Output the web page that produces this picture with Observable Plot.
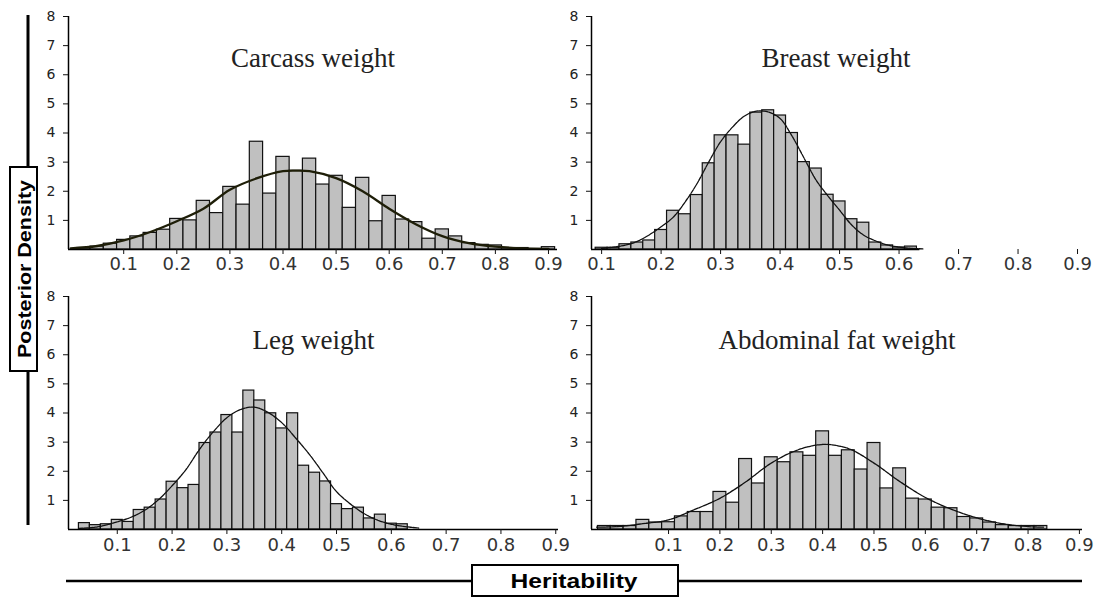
<!DOCTYPE html>
<html><head><meta charset="utf-8">
<script src="https://cdn.jsdelivr.net/npm/d3@7"></script>
<script src="https://cdn.jsdelivr.net/npm/@observablehq/plot@0.6"></script>
<style>
html,body{margin:0;padding:0;background:#fff;}
#wrap{position:relative;width:1099px;height:597px;overflow:hidden;background:#fff;}
#wrap > svg{position:absolute;}
</style></head><body><div id="wrap"></div>
<script>
// ---------- data ----------
const panelTitles = ["Carcass weight", "Breast weight", "Leg weight", "Abdominal fat weight"];
const xAxisTitle = "Heritability";
const yAxisTitle = "Posterior Density";
const xTickValues = [0.1, 0.2, 0.3, 0.4, 0.5, 0.6, 0.7, 0.8, 0.9];
const yTickValues = [1, 2, 3, 4, 5, 6, 7, 8];

// Carcass weight (bin width 0.025)
const carcassBinWidth = 0.025;
const carcassBins = [0.025,0.05,0.075,0.1,0.125,0.15,0.175,0.2,0.225,0.25,0.275,0.3,0.325,0.35,0.375,0.4,0.425,0.45,0.475,0.5,0.525,0.55,0.575,0.6,0.625,0.65,0.675,0.7,0.725,0.75,0.775,0.8,0.825,0.85,0.875,0.9];
const carcassDensity = [0.05,0.1,0.2,0.33,0.45,0.57,0.68,1.05,1.0,1.67,1.25,2.15,1.54,3.7,1.92,3.18,2.7,3.12,2.23,2.53,1.43,2.46,0.97,1.84,1.03,0.94,0.37,0.69,0.45,0.22,0.16,0.14,0.05,0.05,0.02,0.08];
const carcassCurveX = [0.0,0.05,0.1,0.15,0.2,0.25,0.3,0.35,0.4,0.425,0.45,0.5,0.55,0.6,0.65,0.7,0.75,0.8,0.85,0.9];
const carcassCurveY = [0.04,0.12,0.31,0.6,0.97,1.4,2.05,2.44,2.69,2.71,2.69,2.45,2.0,1.4,0.87,0.46,0.22,0.1,0.04,0.02];

// Breast weight (bin width 0.02)
const breastBinWidth = 0.02;
const breastBins = [0.1,0.12,0.14,0.16,0.18,0.2,0.22,0.24,0.26,0.28,0.3,0.32,0.34,0.36,0.38,0.4,0.42,0.44,0.46,0.48,0.5,0.52,0.54,0.56,0.58,0.6,0.62];
const breastDensity = [0.06,0.06,0.18,0.24,0.31,0.67,1.33,1.21,1.87,2.96,3.92,3.92,3.6,4.7,4.78,4.6,4.0,3.0,2.78,1.88,1.65,1.04,0.92,0.24,0.14,0.07,0.1];
const breastCurveX = [0.1,0.12,0.14,0.16,0.18,0.2,0.22,0.24,0.26,0.28,0.3,0.32,0.34,0.36,0.38,0.4,0.42,0.44,0.46,0.48,0.5,0.52,0.54,0.56,0.58,0.6,0.62,0.64];
const breastCurveY = [0.04,0.08,0.15,0.28,0.5,0.78,1.1,1.62,2.25,3.0,3.7,4.2,4.58,4.75,4.72,4.5,3.9,3.15,2.4,1.85,1.35,0.85,0.5,0.3,0.16,0.08,0.04,0.02];

// Leg weight (bin width 0.02)
const legBinWidth = 0.02;
const legBins = [0.04,0.06,0.08,0.1,0.12,0.14,0.16,0.18,0.2,0.22,0.24,0.26,0.28,0.3,0.32,0.34,0.36,0.38,0.4,0.42,0.44,0.46,0.48,0.5,0.52,0.54,0.56,0.58,0.6,0.62];
const legDensity = [0.22,0.15,0.18,0.33,0.26,0.67,0.75,1.03,1.64,1.42,1.53,2.97,3.33,3.93,3.33,4.77,4.43,3.99,3.47,3.99,2.19,1.95,1.65,0.87,0.7,0.75,0.38,0.51,0.2,0.18];
const legCurveX = [0.03,0.06,0.1,0.125,0.15,0.175,0.2,0.225,0.25,0.275,0.3,0.325,0.35,0.375,0.4,0.425,0.45,0.475,0.5,0.525,0.55,0.575,0.6,0.625,0.65];
const legCurveY = [0.04,0.08,0.26,0.42,0.66,1.02,1.5,2.05,2.75,3.35,3.84,4.12,4.2,4.02,3.67,3.15,2.59,1.95,1.3,0.88,0.55,0.32,0.18,0.1,0.05];

// Abdominal fat weight (bin width 0.025)
const abdominalBinWidth = 0.025;
const abdominalBins = [-0.025,0,0.025,0.05,0.075,0.1,0.125,0.15,0.175,0.2,0.225,0.25,0.275,0.3,0.325,0.35,0.375,0.4,0.425,0.45,0.475,0.5,0.525,0.55,0.575,0.6,0.625,0.65,0.675,0.7,0.725,0.75,0.775,0.8,0.825];
const abdominalDensity = [0.12,0.12,0.12,0.33,0.24,0.25,0.45,0.6,0.6,1.29,0.92,2.42,1.58,2.48,2.31,2.65,2.53,3.37,2.53,2.72,2.06,2.97,1.41,2.1,1.06,1.03,0.75,0.73,0.43,0.38,0.24,0.15,0.12,0.12,0.12];
const abdominalCurveX = [-0.04,0.0,0.05,0.1,0.15,0.2,0.25,0.3,0.35,0.4,0.45,0.5,0.55,0.6,0.65,0.7,0.75,0.8,0.83];
const abdominalCurveY = [0.08,0.1,0.2,0.33,0.68,1.07,1.63,2.28,2.72,2.92,2.78,2.28,1.65,1.1,0.7,0.4,0.2,0.1,0.08];

// ---------- layout ----------
const panels = [
  {title: panelTitles[0], bins: carcassBins, dens: carcassDensity, bw: carcassBinWidth, cx: carcassCurveX, cy: carcassCurveY,
   left: 0, top: 0, width: 560, mL: 68, mR: 3, xd: [-0.004, 0.917], axisEnd: 0.917, titleDy: 31.5, labelDy: 20, thick: true},
  {title: panelTitles[1], bins: breastBins, dens: breastDensity, bw: breastBinWidth, cx: breastCurveX, cy: breastCurveY,
   left: 560, top: 0, width: 539, mL: 31, mR: 19, xd: [0.083, 0.905], axisEnd: 0.635, titleDy: 31.5, labelDy: 20, thick: false},
  {title: panelTitles[2], bins: legBins, dens: legDensity, bw: legBinWidth, cx: legCurveX, cy: legCurveY,
   left: 0, top: 280, width: 560, mL: 68, mR: 2, xd: [0.011, 0.905], axisEnd: 0.905, titleDy: 33, labelDy: 21, thick: false},
  {title: panelTitles[3], bins: abdominalBins, dens: abdominalDensity, bw: abdominalBinWidth, cx: abdominalCurveX, cy: abdominalCurveY,
   left: 560, top: 280, width: 539, mL: 31, mR: 17, xd: [-0.05, 0.906], axisEnd: 0.906, titleDy: 33, labelDy: 21, thick: false}
];

const wrap = document.getElementById("wrap");
const tickFont = "DejaVu Sans, Verdana, sans-serif";

for (const p of panels) {
  const rects = p.bins.map((c, i) => ({x1: c - p.bw / 2, x2: c + p.bw / 2, v: p.dens[i]}));
  const curve = p.cx.map((x, i) => ({x, y: p.cy[i]}));
  const chart = Plot.plot({
    width: p.width, height: 290,
    marginLeft: p.mL, marginRight: p.mR, marginTop: 16, marginBottom: 41,
    x: {domain: p.xd, axis: null},
    y: {domain: [0, 8], axis: null},
    style: {fontFamily: tickFont, background: "transparent", color: "#111", overflow: "visible"},
    marks: [
      Plot.rect(rects, {x1: "x1", x2: "x2", y1: 0, y2: "v", fill: "#c0c0c0", stroke: "#111", strokeWidth: 1.2}),
      Plot.line(curve, {x: "x", y: "y", curve: "catmull-rom",
        stroke: p.thick ? "#1e1e08" : "#111", strokeWidth: p.thick ? 2.3 : 1.3,
        strokeDasharray: p.thick ? null : "4,1"}),
      Plot.ruleX([p.xd[0]], {y1: 0, y2: 8, stroke: "#000", strokeWidth: 1.5}),
      Plot.ruleY([0], {x1: p.xd[0], x2: p.axisEnd, stroke: "#000", strokeWidth: 1.5}),
      // tick marks
      Plot.axisY({ticks: yTickValues, tickSize: 5, tickFormat: () => "", label: null}),
      Plot.axisX({ticks: xTickValues, tickSize: 5, tickFormat: () => "", label: null}),
      // tick labels
      Plot.text(yTickValues, {y: d => d, text: d => String(d), frameAnchor: "left", textAnchor: "end",
        dx: -13, fontSize: 14, fontFamily: tickFont, fill: "#222"}),
      Plot.text(xTickValues, {x: d => d, text: d => d.toFixed(1), frameAnchor: "bottom",
        dy: p.labelDy, fontSize: 18, fontFamily: tickFont, fill: "#333"}),
      // panel title
      Plot.text([p.title], {text: d => d, frameAnchor: "top", dy: p.titleDy,
        fontFamily: "Liberation Serif, Times New Roman, serif", fontSize: 27, fill: "#222"})
    ]
  });
  chart.style.left = p.left + "px";
  chart.style.top = p.top + "px";
  wrap.appendChild(chart);
}

// ---------- axis titles (overlay) ----------
const ov = d3.select(wrap).append("svg")
  .attr("width", 1099).attr("height", 597)
  .style("left", "0px").style("top", "0px").style("pointer-events", "none");

ov.append("line").attr("x1", 28).attr("x2", 28).attr("y1", 15).attr("y2", 525)
  .attr("stroke", "#000").attr("stroke-width", 3);
ov.append("rect").attr("x", 10).attr("y", 167).attr("width", 27).attr("height", 204)
  .attr("fill", "#fff").attr("stroke", "#000").attr("stroke-width", 2);
ov.append("text").text(yAxisTitle)
  .attr("transform", "translate(24,269) rotate(-90)")
  .attr("text-anchor", "middle").attr("dy", "0.36em")
  .attr("font-family", "Liberation Sans, Arial, sans-serif").attr("font-weight", "bold")
  .attr("font-size", 19).attr("textLength", 178).attr("lengthAdjust", "spacingAndGlyphs")
  .attr("fill", "#000");

ov.append("line").attr("x1", 66).attr("x2", 1082).attr("y1", 581).attr("y2", 581)
  .attr("stroke", "#000").attr("stroke-width", 2.5);
ov.append("rect").attr("x", 472).attr("y", 565).attr("width", 206).attr("height", 31)
  .attr("fill", "#fff").attr("stroke", "#000").attr("stroke-width", 2);
ov.append("text").text(xAxisTitle)
  .attr("x", 574).attr("y", 581).attr("text-anchor", "middle").attr("dy", "0.36em")
  .attr("font-family", "Liberation Sans, Arial, sans-serif").attr("font-weight", "bold")
  .attr("font-size", 20).attr("textLength", 127).attr("lengthAdjust", "spacingAndGlyphs")
  .attr("fill", "#000");
</script></body></html>
